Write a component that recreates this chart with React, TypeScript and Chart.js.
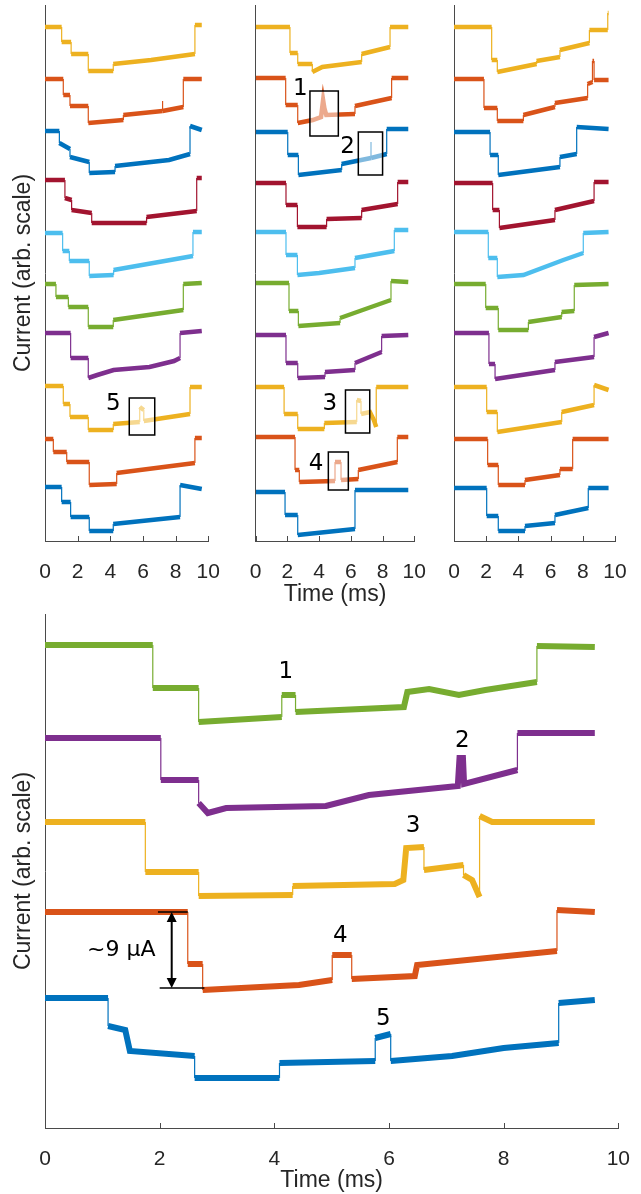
import React, { useEffect, useRef } from 'react';
import { Chart, registerables } from 'chart.js';
Chart.register(...registerables);

// ---------- data (time in ms, current in arbitrary units) ----------
const timeTicks = [0, 2, 4, 6, 8, 10];

const topColors = ['#EDB120', '#D95319', '#0072BD', '#A2142F', '#4DBEEE', '#77AC30', '#7E2F8E', '#EDB120', '#D95319', '#0072BD'];
const bottomColors = ['#77AC30', '#7E2F8E', '#EDB120', '#D95319', '#0072BD'];

// open-pore level of each stacked trace
const panel1Base = [514, 462, 410, 361, 308, 257, 208, 155, 101, 54];
const panel2Base = [514, 463, 409, 358, 309, 258, 206, 154, 104, 49];
const panel3Base = [514, 462, 409, 358, 309, 257, 208, 154, 102, 53];
const bottomBase = [483, 390, 306, 216, 130];

// current change relative to open level: [time, level]
const panel1Traces: number[][][] = [
  [[0, 0], [1.02, 0], [1.02, -15], [1.6, -15], [1.6, -27], [2.65, -27], [2.65, -44], [4.18, -44], [4.18, -37], [6.5, -33], [9.18, -27], [9.18, 2], [9.6, 2]],
  [[0, 0], [1.12, 0], [1.12, -16], [1.53, -16], [1.53, -27], [2.65, -27], [2.65, -44], [4.8, -41], [4.8, -36], [7.2, -32], [7.2, -22], [7.2, -32], [8.47, -28], [8.47, 0], [9.6, 0]],
  [[0, 0], [0.88, 0], [0.88, -12], [1.53, -18], [1.53, -26], [2.71, -31], [2.71, -42], [4.29, -41], [4.29, -35], [7.6, -29], [8.88, -23], [8.88, 5], [9.6, 1]],
  [[0, 0], [1.22, 0], [1.22, -18], [1.63, -20], [1.63, -30], [2.86, -33], [2.86, -43], [6.22, -43], [6.22, -37], [9.29, -31], [9.29, 2], [9.6, 2]],
  [[0, 0], [1.08, 0], [1.08, -18], [1.49, -18], [1.49, -28], [2.71, -28], [2.71, -43], [4.2, -42], [4.2, -37], [9.06, -23], [9.06, 1], [9.6, 1]],
  [[0, 0], [0.67, 0], [0.67, -13], [1.43, -13], [1.43, -23], [2.65, -23], [2.65, -43], [4.18, -43], [4.18, -36], [8.47, -26], [8.47, 0], [9.6, 1]],
  [[0, 0], [1.57, 0], [1.57, -25], [2.65, -25], [2.65, -45], [3.2, -42], [4.2, -37], [6.4, -34], [7.9, -28], [8.27, -25], [8.27, 0], [9.6, 2]],
  [[0, 0], [1.12, 0], [1.12, -18], [1.53, -18], [1.53, -31], [2.65, -31], [2.65, -44], [4.18, -44], [4.18, -38], [5.8, -36], [5.8, -21], [6.05, -24], [6.05, -35], [8.88, -28], [8.88, -1], [9.6, -1]],
  [[0, 1], [0.51, 1], [0.51, -12], [1.33, -12], [1.33, -22], [2.71, -22], [2.71, -45], [4.39, -44], [4.39, -33], [9.18, -23], [9.18, 2], [9.6, 2]],
  [[0, 0], [1.02, 0], [1.02, -15], [1.57, -15], [1.57, -30], [2.71, -30], [2.71, -44], [4.18, -44], [4.18, -37], [8.27, -30], [8.27, 2], [9.6, -2]],
];

const panel2Traces: number[][][] = [
  [[0, 0], [2.16, 0], [2.16, -26], [2.65, -26], [2.65, -37], [3.57, -37], [3.57, -45], [4.2, -40], [6.68, -35], [6.68, -27], [8.47, -20], [8.47, 0], [9.62, 0]],
  [[0, 0], [1.89, 0], [1.89, -27], [2.65, -27], [2.65, -45], [3.6, -42], [4.12, -39], [4.25, -22], [4.33, -30], [4.45, -37], [6.26, -36], [6.26, -28], [8.57, -20], [8.57, 0], [9.62, 0]],
  [[0, 0], [2.02, 0], [2.02, -23], [2.69, -23], [2.69, -43], [5.42, -38], [5.42, -32], [7.27, -26], [7.27, -10], [7.27, -26], [8.26, -22], [8.26, 3], [9.62, 3]],
  [[0, 0], [1.91, 0], [1.91, -22], [2.63, -22], [2.63, -44], [4.47, -44], [4.47, -36], [6.68, -35], [6.68, -27], [8.95, -21], [8.95, 1], [9.62, 1]],
  [[0, 0], [1.91, 0], [1.91, -23], [2.63, -23], [2.63, -43], [4.0, -41], [6.26, -36], [6.26, -26], [8.74, -19], [8.74, 2], [9.62, 2]],
  [[0, 0], [2.1, 0], [2.1, -28], [2.69, -28], [2.69, -43], [5.32, -40], [5.32, -35], [7.1, -25], [8.53, -17], [8.53, 2], [9.62, 1]],
  [[0, 0], [1.91, 0], [1.91, -28], [2.65, -28], [2.65, -43], [4.37, -42], [4.37, -37], [6.26, -35], [6.26, -28], [7.94, -17], [7.94, -1], [9.62, 0]],
  [[0, 0], [1.79, 0], [1.79, -27], [2.65, -27], [2.65, -42], [4.33, -42], [4.33, -36], [6.37, -35], [6.37, -13], [6.64, -14], [6.64, -27], [7.2, -25], [7.45, -33], [7.6, -40], [7.6, 0], [9.62, 0]],
  [[0, 0], [2.48, 0], [2.48, -33], [2.75, -33], [2.75, -45], [5.0, -44], [5.0, -25], [5.38, -25], [5.38, -43], [6.47, -42], [6.47, -33], [8.93, -25], [8.93, 0], [9.62, 0]],
  [[0, 0], [1.85, 0], [1.85, -23], [2.65, -23], [2.65, -43], [6.26, -37], [6.26, 2], [9.62, 2]],
];

const panel3Traces: number[][][] = [
  [[0, 0], [2.34, 0], [2.34, -33], [2.69, -33], [2.69, -45], [5.13, -37], [5.13, -34], [6.58, -30], [6.58, -23], [8.41, -16], [8.41, -3], [9.55, -3], [9.55, 14], [9.6, 14]],
  [[0, 0], [1.86, 0], [1.86, -29], [2.69, -29], [2.69, -42], [4.31, -42], [4.31, -36], [6.27, -28], [6.27, -24], [8.3, -19], [8.3, -5], [8.6, -3], [8.6, 18], [8.7, 18], [8.7, -1], [9.6, -1]],
  [[0, 0], [2.24, 0], [2.24, -23], [2.75, -23], [2.75, -43], [6.58, -35], [6.58, -25], [7.62, -22], [7.62, 5], [9.6, 3]],
  [[0, 0], [2.4, 0], [2.4, -27], [2.82, -27], [2.82, -45], [6.27, -37], [6.27, -27], [8.7, -18], [8.7, 1], [9.6, 1]],
  [[0, 0], [2.13, 0], [2.13, -26], [2.69, -26], [2.69, -45], [4.31, -43], [6.79, -28], [8.03, -21], [8.03, -1], [9.6, 0]],
  [[0, 0], [1.97, 0], [1.97, -24], [2.75, -24], [2.75, -46], [4.62, -46], [4.62, -38], [6.69, -33], [6.69, -28], [7.47, -27], [7.47, -1], [9.6, 0]],
  [[0, 0], [2.17, 0], [2.17, -31], [2.55, -31], [2.55, -46], [6.27, -37], [6.27, -29], [8.7, -24], [8.7, -4], [9.6, 0]],
  [[0, 0], [2.03, 0], [2.03, -25], [2.69, -25], [2.69, -45], [6.69, -35], [6.69, -25], [8.7, -18], [8.7, 2], [9.6, -3]],
  [[0, 0], [2.09, 0], [2.09, -26], [2.75, -26], [2.75, -46], [4.41, -46], [4.41, -41], [6.58, -36], [6.58, -30], [7.37, -30], [7.37, 0], [9.6, 0]],
  [[0, 0], [2.03, 0], [2.03, -28], [2.75, -28], [2.75, -43], [4.41, -43], [4.41, -38], [6.27, -35], [6.27, -27], [8.34, -20], [8.34, 0], [9.6, 0]],
];

const bottomTraces: number[][][] = [
  [[0, 0], [1.88, 0], [1.88, -43], [2.68, -43], [2.68, -77], [4.13, -72], [4.13, -50], [4.37, -50], [4.37, -67], [6.26, -62], [6.32, -47], [6.7, -44], [7.22, -50], [7.68, -45], [8.58, -37], [8.58, -1], [9.59, -2]],
  [[0, 0], [2.02, 0], [2.02, -42], [2.68, -42], [2.68, -65], [2.84, -75], [3.16, -70], [4.9, -68], [5.65, -57], [7.2, -48], [7.23, -20], [7.29, -20], [7.31, -46], [8.24, -32], [8.24, 5], [9.59, 5]],
  [[0, 0], [1.75, 0], [1.75, -50], [2.68, -50], [2.68, -74], [4.32, -73], [4.32, -64], [6.1, -62], [6.25, -58], [6.3, -26], [6.61, -25], [6.61, -48], [7.3, -43], [7.3, -53], [7.45, -58], [7.58, -75], [7.58, 6], [7.8, 0], [9.59, 0]],
  [[0, 0], [2.49, 0], [2.49, -52], [2.75, -52], [2.75, -78], [4.43, -73], [5.01, -68], [5.01, -43], [5.35, -43], [5.35, -67], [6.45, -64], [6.49, -53], [8.93, -39], [8.93, 2], [9.59, 0]],
  [[0, 0], [1.1, 0], [1.1, -28], [1.4, -32], [1.48, -53], [2.61, -58], [2.61, -80], [4.09, -80], [4.09, -65], [5.76, -63], [5.76, -40], [6.03, -36], [6.03, -63], [7.1, -58], [8.0, -50], [8.96, -45], [8.96, -5], [9.59, -2]],
];

// annotations: boxes [t0, t1, v0, v1], labels [text, t, v]
const panel1Boxes = [[5.16, 6.72, 106, 143]];
const panel2Boxes = [[3.42, 5.21, 405, 450], [6.47, 8.0, 366, 409], [5.66, 7.19, 108, 151], [4.58, 5.84, 51, 89]];
const panel1Labels: [string, number, number][] = [['5', 4.18, 139]];
const panel2Labels: [string, number, number][] = [['1', 2.81, 454], ['2', 5.8, 396], ['3', 4.68, 139], ['4', 3.8, 79]];
const bottomLabels: [string, number, number][] = [['1', 4.2, 458], ['2', 7.28, 389], ['3', 6.42, 304], ['4', 5.15, 194], ['5', 5.9, 111]];
const stepAnnotation = { text: '~9 µA', t: 2.21, top: 216, bottom: 140, topFrom: 1.97, topTo: 2.49, botFrom: 2.0, botTo: 2.78, textT: 1.33, textV: 180 };

// ---------- chart factory ----------
const W = 641;
const H = 1194;
const AXIS = '#4a4a4a';
const TEXT = '#262626';

type Cfg = {
  left: number; right: number; top: number; bottom: number;
  yWidth: number; xHeight: number; yMax: number;
  traces: number[][][]; bases: number[]; colors: string[]; lineWidth: number;
  xTitle?: boolean; xTitlePad?: number; yTitle?: boolean;
  boxes?: number[][]; labels?: [string, number, number][]; arrow?: boolean;
};

function makeChart(canvas: HTMLCanvasElement, cfg: Cfg) {
  const datasets = cfg.traces.map((tr, i) => ({
    data: tr.map(([t, v]) => ({ x: t, y: cfg.bases[i] + v })),
    borderColor: cfg.colors[i],
    borderWidth: cfg.lineWidth,
    pointRadius: 0,
    tension: 0,
    fill: false,
    borderJoinStyle: 'miter' as const,
    segment: {
      borderWidth: (c: any) => (c.p0.parsed.x === c.p1.parsed.x ? 1.2 : cfg.lineWidth),
    },
  }));

  const decor = {
    id: 'decor',
    afterDraw(chart: any) {
      const { ctx, chartArea } = chart;
      const x = chart.scales.x;
      const y = chart.scales.y;
      ctx.save();
      // inward tick marks
      ctx.strokeStyle = AXIS;
      ctx.lineWidth = 1;
      ctx.beginPath();
      for (const v of timeTicks) {
        const px = Math.round(x.getPixelForValue(v)) + 0.5;
        ctx.moveTo(px, chartArea.bottom);
        ctx.lineTo(px, chartArea.bottom - 5);
      }
      ctx.stroke();
      // boxes
      for (const b of cfg.boxes || []) {
        const x0 = x.getPixelForValue(b[0]);
        const x1 = x.getPixelForValue(b[1]);
        const y0 = y.getPixelForValue(b[3]);
        const y1 = y.getPixelForValue(b[2]);
        ctx.fillStyle = 'rgba(255,255,255,0.5)';
        ctx.fillRect(x0, y0, x1 - x0, y1 - y0);
        ctx.strokeStyle = '#000';
        ctx.lineWidth = 1.5;
        ctx.strokeRect(x0, y0, x1 - x0, y1 - y0);
      }
      // labels
      ctx.fillStyle = '#000';
      ctx.font = '23px "DejaVu Sans"';
      ctx.textAlign = 'center';
      ctx.textBaseline = 'alphabetic';
      for (const [txt, t, v] of cfg.labels || []) {
        ctx.fillText(txt, x.getPixelForValue(t), y.getPixelForValue(v) + 8.4);
      }
      // step-size arrow
      if (cfg.arrow) {
        const a = stepAnnotation;
        const ax = x.getPixelForValue(a.t);
        const yTop = y.getPixelForValue(a.top);
        const yBot = y.getPixelForValue(a.bottom);
        ctx.strokeStyle = '#000';
        ctx.lineWidth = 1.3;
        ctx.beginPath();
        ctx.moveTo(x.getPixelForValue(a.topFrom), yTop);
        ctx.lineTo(x.getPixelForValue(a.topTo), yTop);
        ctx.moveTo(x.getPixelForValue(a.botFrom), yBot);
        ctx.lineTo(x.getPixelForValue(a.botTo), yBot);
        ctx.stroke();
        ctx.lineWidth = 2;
        ctx.beginPath();
        ctx.moveTo(ax, yTop + 9);
        ctx.lineTo(ax, yBot - 9);
        ctx.stroke();
        ctx.fillStyle = '#000';
        ctx.beginPath();
        ctx.moveTo(ax, yTop);
        ctx.lineTo(ax - 5, yTop + 10);
        ctx.lineTo(ax + 5, yTop + 10);
        ctx.closePath();
        ctx.fill();
        ctx.beginPath();
        ctx.moveTo(ax, yBot);
        ctx.lineTo(ax - 5, yBot - 10);
        ctx.lineTo(ax + 5, yBot - 10);
        ctx.closePath();
        ctx.fill();
        ctx.font = '22px "DejaVu Sans"';
        ctx.textAlign = 'center';
        ctx.fillText(a.text, x.getPixelForValue(a.textT), y.getPixelForValue(a.textV) + 8);
      }
      ctx.restore();
    },
  };

  return new Chart(canvas, {
    type: 'line',
    data: { datasets: datasets as any },
    plugins: [decor],
    options: {
      animation: false,
      responsive: false,
      events: [],
      layout: {
        padding: {
          left: cfg.left - cfg.yWidth,
          right: W - cfg.right,
          top: cfg.top,
          bottom: H - cfg.bottom - cfg.xHeight,
        },
      },
      plugins: { legend: { display: false }, tooltip: { enabled: false } },
      scales: {
        x: {
          type: 'linear',
          min: 0,
          max: 10,
          ticks: {
            stepSize: 2,
            autoSkip: false,
            maxRotation: 0,
            padding: 11,
            color: TEXT,
            font: { family: '"Liberation Sans", Arial, sans-serif', size: 21 },
          },
          grid: { display: false },
          border: { display: true, color: AXIS, width: 1 },
          title: {
            display: !!cfg.xTitle,
            text: 'Time (ms)',
            color: TEXT,
            font: { family: '"Liberation Sans", Arial, sans-serif', size: 23 },
            padding: { top: 0, bottom: cfg.xTitlePad || 0 },
          },
          afterFit: (s: any) => { s.height = cfg.xHeight; },
        },
        y: {
          type: 'linear',
          min: 0,
          max: cfg.yMax,
          ticks: { display: false },
          grid: { display: false },
          border: { display: true, color: AXIS, width: 1 },
          title: {
            display: !!cfg.yTitle,
            text: 'Current (arb. scale)',
            color: TEXT,
            font: { family: '"Liberation Sans", Arial, sans-serif', size: 23 },
            padding: { top: 9.5, bottom: 0 },
          },
          afterFit: (s: any) => { s.width = cfg.yWidth; },
        },
      },
    } as any,
  });
}

export default function App() {
  const r1 = useRef<HTMLCanvasElement>(null);
  const r2 = useRef<HTMLCanvasElement>(null);
  const r3 = useRef<HTMLCanvasElement>(null);
  const r4 = useRef<HTMLCanvasElement>(null);

  useEffect(() => {
    const charts = [
      makeChart(r1.current!, {
        left: 45, right: 208.3, top: 5, bottom: 541, yWidth: 45, xHeight: 70, yMax: 536,
        traces: panel1Traces, bases: panel1Base, colors: topColors, lineWidth: 4.5,
        yTitle: true, boxes: panel1Boxes, labels: panel1Labels,
      }),
      makeChart(r2.current!, {
        left: 255.7, right: 414.3, top: 5, bottom: 541, yWidth: 10, xHeight: 70, yMax: 536,
        traces: panel2Traces, bases: panel2Base, colors: topColors, lineWidth: 4.5,
        xTitle: true, xTitlePad: 2.2, boxes: panel2Boxes, labels: panel2Labels,
      }),
      makeChart(r3.current!, {
        left: 454, right: 615, top: 5, bottom: 541, yWidth: 10, xHeight: 70, yMax: 536,
        traces: panel3Traces, bases: panel3Base, colors: topColors, lineWidth: 4.5,
      }),
      makeChart(r4.current!, {
        left: 45, right: 620.3, top: 614, bottom: 1128, yWidth: 45, xHeight: 66, yMax: 514,
        traces: bottomTraces, bases: bottomBase, colors: bottomColors, lineWidth: 6,
        xTitle: true, xTitlePad: 0, yTitle: true, labels: bottomLabels, arrow: true,
      }),
    ];
    return () => charts.forEach((c) => c.destroy());
  }, []);

  const cs: React.CSSProperties = { position: 'absolute', left: 0, top: 0, width: W, height: H };
  return (
    <div style={{ position: 'fixed', left: 0, top: 0, width: W, height: H, background: '#fff' }}>
      <canvas ref={r1} width={W} height={H} style={cs} />
      <canvas ref={r2} width={W} height={H} style={cs} />
      <canvas ref={r3} width={W} height={H} style={cs} />
      <canvas ref={r4} width={W} height={H} style={cs} />
    </div>
  );
}
